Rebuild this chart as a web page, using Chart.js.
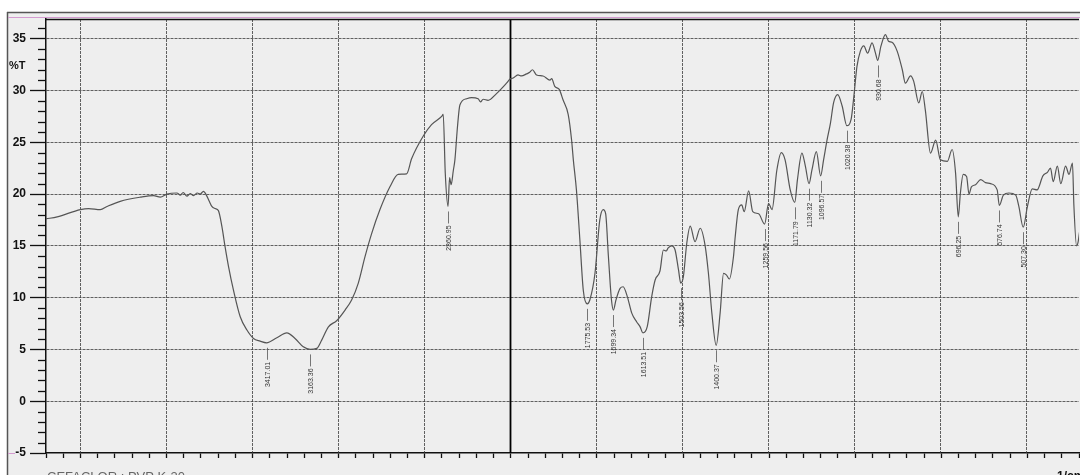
<!DOCTYPE html>
<html>
<head>
<meta charset="utf-8">
<script src="https://cdn.jsdelivr.net/npm/chart.js@4/dist/chart.umd.min.js"></script>
<style>
html,body{margin:0;padding:0;background:#fff;overflow:hidden;}
#wrap{position:absolute;left:0;top:0;width:1080px;height:475px;}
</style>
</head>
<body>
<div id="wrap"><canvas id="c" width="1080" height="475"></canvas></div>
<script>
// ---- data (wavenumber in 1/cm, %T) ----
const wavenumbers = [
4700,4635,4500,4452,4384,4345,4268,4151,4074,4035,3996,3938,3919,3902,3880,3861,3842,3820,3803,3784,3764,3750,3735,3716,3697,3677,3658,3638,3609,3570,3531,3493,3454,3417.01,3357,3299,3251,3203,3163.36,3125,3096,3057,3009,2960,2922,2883,2844,2805,2757,2699,2651,2602,2573,2505,2457,2398,2389,2377,2360.95,2352,2343,2330,2321,2306,2292,2253,2224,2186,2172,2157,2128,2079,2021,2000,
1991,1977,1967,1952,1943,1935,1923,1904,1884,1879,1870,1857,1846,1831,1821,1816,1807,1797,1787,1775.53,1768,1753,1739,1729,1722,1714,1705,1699.34,1692,1680,1671,1659,1646,1632,1622,1613.51,1601,1588,1578,1564,1554,1546,1540,1530,1520,1510,1503.56,1496,1486,1476,1462,1447,1433,1423,1413,1400.37,1389,1379,1371,1362,1350,1345,1336,1326,1319,1306,1294,1277,1259.56,1248,1238,1224,1211,1200,1185,1171.79,1164,1151,1141,1130.32,1122,1109,1096.57,1088,1078,1068,1059,1047,1034,1020.38,1008,1000,991,981,971,960,947,937,930.68,921,908,899,889,874,859,850,835,826,811,801,792,777,762,748,728,714,704,696.25,690,682,672,665,658,646,631,617,602,583,576.74,565,549,529,520,507.30,495,481,467,450,437,428,420,408,398,384,374,364,360,352,348,342
];
const transmittance = [
17.6,17.8,18.5,18.6,18.5,18.8,19.3,19.7,19.85,19.7,20.0,20.1,19.9,20.15,19.8,20.05,19.85,20.1,20.0,20.25,19.8,19.3,18.8,18.6,18.4,16.9,14.9,13.0,10.7,8.15,6.87,6.06,5.8,5.64,6.12,6.6,6.06,5.25,5.0,5.1,5.9,7.18,7.77,8.8,9.77,11.4,13.95,16.2,18.5,20.7,21.9,21.95,23.4,25.6,26.7,27.5,27.7,22.0,18.8,21.6,20.9,22.3,23.3,26.5,28.6,29.2,29.3,29.2,28.9,29.15,29.05,29.7,30.7,31.1,
31.2,31.5,31.4,31.6,31.75,32.0,31.5,31.4,31.0,31.15,30.4,30.1,29.1,27.7,25.2,23.3,20.4,15.6,10.7,9.4,9.77,12.35,17.5,18.5,18.1,14.0,9.77,8.8,9.77,10.9,11.05,10.1,8.5,7.67,7.2,6.6,7.2,10.1,11.7,12.57,14.6,14.5,14.8,15.0,14.6,12.67,11.4,12.0,15.25,16.9,15.4,16.7,15.1,12.35,8.5,5.4,8.5,12.35,12.2,11.8,14.0,15.9,18.5,18.95,18.3,20.3,18.3,18.1,17.1,19.1,18.5,22.3,24.0,23.3,20.4,19.2,21.4,23.95,22.7,21.0,22.3,24.1,21.76,23.3,25.2,26.85,28.8,29.6,28.5,26.6,27.2,29.4,32.3,33.8,34.3,33.6,34.6,33.6,32.9,34.3,35.4,34.75,34.65,33.8,32.0,30.7,31.4,30.9,28.8,29.9,28.1,23.95,25.2,23.3,23.15,24.3,22.0,17.8,20.1,21.9,21.7,20.0,20.7,20.9,21.4,21.1,21.0,20.4,18.9,19.9,20.1,19.9,18.8,16.8,18.8,20.5,20.4,21.76,22.1,22.5,21.2,22.7,21.0,22.7,21.9,23.0,19.0,15.0,15.3,16.7
];
const peakWavenumbers = [3417.01,3163.36,2360.95,1775.53,1699.34,1613.51,1503.56,1400.37,1259.56,1171.79,1130.32,1096.57,1020.38,930.68,696.25,576.74,507.30];
const peakLabels = ['3417.01','3163.36','2360.95','1775.53','1699.34','1613.51','1503.56','1400.37','1259.56','1171.79','1130.32','1096.57','1020.38','930.68','696.25','576.74','507.30'];
const xTickLabels = [4500,4000,3500,3000,2500,2000,1750,1500,1250,1000,750,500];
const yTickLabels = [-5,0,5,10,15,20,25,30,35];
const yAxisTitle = '%T';
const xAxisTitle = '1/cm';
const sampleName = 'CEFACLOR : PVP K-30';

// Shimadzu-style split axis: 4700-2000 at one scale, 2000-345 at double scale
const X_MAX_WN = 4700, X_SPLIT = 2000, X_MIN_WN = 345;
function toU(w){ return w >= X_SPLIT ? (X_MAX_WN - w) : (X_MAX_WN - X_SPLIT) + (X_SPLIT - w) * 2; }
function fromU(u){ const s = X_MAX_WN - X_SPLIT; return u <= s ? X_MAX_WN - u : X_SPLIT - (u - s) / 2; }

const points = wavenumbers.map((w,i)=>({x: toU(w), y: transmittance[i]}));
const majorU = xTickLabels.map(toU);
const isMajorU = v => majorU.some(m => Math.abs(m - v) < 1e-6);

const framePlugin = {
  id:'frame',
  beforeDraw(chart){
    const c = chart.ctx, W = chart.width, H = chart.height;
    c.save();
    c.fillStyle = '#ffffff'; c.fillRect(0,0,W,H);
    c.fillStyle = '#eeeeee'; c.fillRect(7,12,W-7,H-12);
    c.strokeStyle = '#555'; c.lineWidth = 1.5;
    c.beginPath(); c.moveTo(7,12.5); c.lineTo(W,12.5); c.stroke();
    c.beginPath(); c.moveTo(7.5,12); c.lineTo(7.5,H); c.stroke();
    c.strokeStyle = '#d49bd0'; c.lineWidth = 1;
    c.beginPath(); c.moveTo(8,17.5); c.lineTo(W,17.5); c.stroke();
    c.restore();
  },
  beforeDatasetsDraw(chart){
    const c = chart.ctx, a = chart.chartArea, xs = chart.scales.x;
    c.save();
    xTickLabels.forEach(w => {
      const p = Math.round(xs.getPixelForValue(toU(w))) + 0.5;
      if (w === X_SPLIT) { c.strokeStyle = '#000'; c.lineWidth = 1.8; c.setLineDash([]); }
      else { c.strokeStyle = 'rgba(60,60,60,0.8)'; c.lineWidth = 1; c.setLineDash([3,1]); }
      c.beginPath(); c.moveTo(p, a.top); c.lineTo(p, a.bottom); c.stroke();
    });
    c.restore();
  },
  afterDraw(chart){
    const c = chart.ctx, a = chart.chartArea, ys = chart.scales.y;
    c.save();
    // top border
    c.strokeStyle = '#111'; c.lineWidth = 1.5;
    c.beginPath(); c.moveTo(a.left, a.top+0.5); c.lineTo(a.right, a.top+0.5); c.stroke();
    // minor y ticks
    c.strokeStyle = '#111'; c.lineWidth = 1.3;
    for (let v = -5; v <= 36; v++) {
      if (v % 5 === 0) continue;
      const p = Math.round(ys.getPixelForValue(v)) + 0.5;
      c.beginPath(); c.moveTo(a.left-8, p); c.lineTo(a.left, p); c.stroke();
    }
    // pink stub at -5
    c.strokeStyle = '#d49bd0'; c.lineWidth = 1;
    const p5 = Math.round(ys.getPixelForValue(-5)) + 0.5;
    c.beginPath(); c.moveTo(8, p5); c.lineTo(15, p5); c.stroke();
    // texts
    c.fillStyle = '#111';
    c.font = 'bold 11px "Liberation Sans", Arial, sans-serif';
    c.textAlign = 'left'; c.textBaseline = 'middle';
    c.fillText(yAxisTitle, 9, 66);
    c.fillStyle = '#666';
    c.font = '13px "Liberation Sans", Arial, sans-serif';
    c.textBaseline = 'top';
    c.fillText(sampleName, 47, 471);
    c.fillStyle = '#111';
    c.font = 'bold 12px "Liberation Sans", Arial, sans-serif';
    c.fillText(xAxisTitle, 1057, 471);
    c.restore();
  },
  afterDatasetsDraw(chart){
    const c = chart.ctx, xs = chart.scales.x, ys = chart.scales.y;
    c.save();
    c.strokeStyle = '#555'; c.lineWidth = 0.8;
    c.fillStyle = '#333';
    c.font = '7px "Liberation Sans", Arial, sans-serif';
    c.textAlign = 'right'; c.textBaseline = 'middle';
    peakWavenumbers.forEach((w,i)=>{
      const idx = wavenumbers.indexOf(w);
      const px = Math.round(xs.getPixelForValue(toU(w))) + 0.5;
      const py = ys.getPixelForValue(transmittance[idx]);
      c.beginPath(); c.moveTo(px, py+5); c.lineTo(px, py+17); c.stroke();
      c.save();
      c.translate(px+0.5, py+19);
      c.rotate(-Math.PI/2);
      c.fillText(peakLabels[i], 0, 0);
      c.restore();
    });
    c.restore();
  }
};

new Chart(document.getElementById('c'), {
  type:'line',
  data:{ datasets:[{
    data: points,
    borderColor:'#555',
    borderWidth:1.2,
    pointRadius:0,
    fill:false,
    cubicInterpolationMode:'monotone',
    tension:0.4
  }]},
  options:{
    responsive:false,
    animation:false,
    devicePixelRatio:1,
    layout:{ padding:{ top:19, left:0, right:0, bottom:0 } },
    plugins:{ legend:{display:false}, tooltip:{enabled:false} },
    scales:{
      x:{
        type:'linear',
        min:0, max: toU(X_MIN_WN),
        afterFit(s){ s.height = 22; },
        border:{ display:true, color:'#111', width:1.5 },
        grid:{
          drawOnChartArea:false,
          drawTicks:true,
          tickColor:'#111',
          tickLength:5,
          tickWidth:1.3
        },
        ticks:{
          stepSize:100,
          autoSkip:false,
          maxRotation:0,
          padding:1,
          color:'#111',
          font:{ family:'"Liberation Sans", Arial, sans-serif', size:12, weight:'bold' },
          callback(v){ return isMajorU(v) ? String(Math.round(fromU(v))) : ''; }
        }
      },
      y:{
        type:'linear',
        min:-5, max:36.9,
        afterFit(s){ s.width = 46; },
        border:{ display:true, color:'#111', width:1.5, dash:[3,1] },
        grid:{
          color(ctx){ const v = ctx.tick && ctx.tick.value; return (yTickLabels.includes(v) && v !== -5) ? 'rgba(60,60,60,0.8)' : 'rgba(0,0,0,0)'; },
          tickColor(ctx){ const v = ctx.tick && ctx.tick.value; return yTickLabels.includes(v) ? '#111' : 'rgba(0,0,0,0)'; },
          tickLength:16,
          tickWidth:1.3
        },
        ticks:{
          stepSize:1,
          autoSkip:false,
          padding:4,
          color:'#111',
          font:{ family:'"Liberation Sans", Arial, sans-serif', size:12, weight:'bold' },
          callback(v){ return yTickLabels.includes(v) ? String(v) : ''; }
        }
      }
    }
  },
  plugins:[framePlugin]
});
</script>
</body>
</html>
